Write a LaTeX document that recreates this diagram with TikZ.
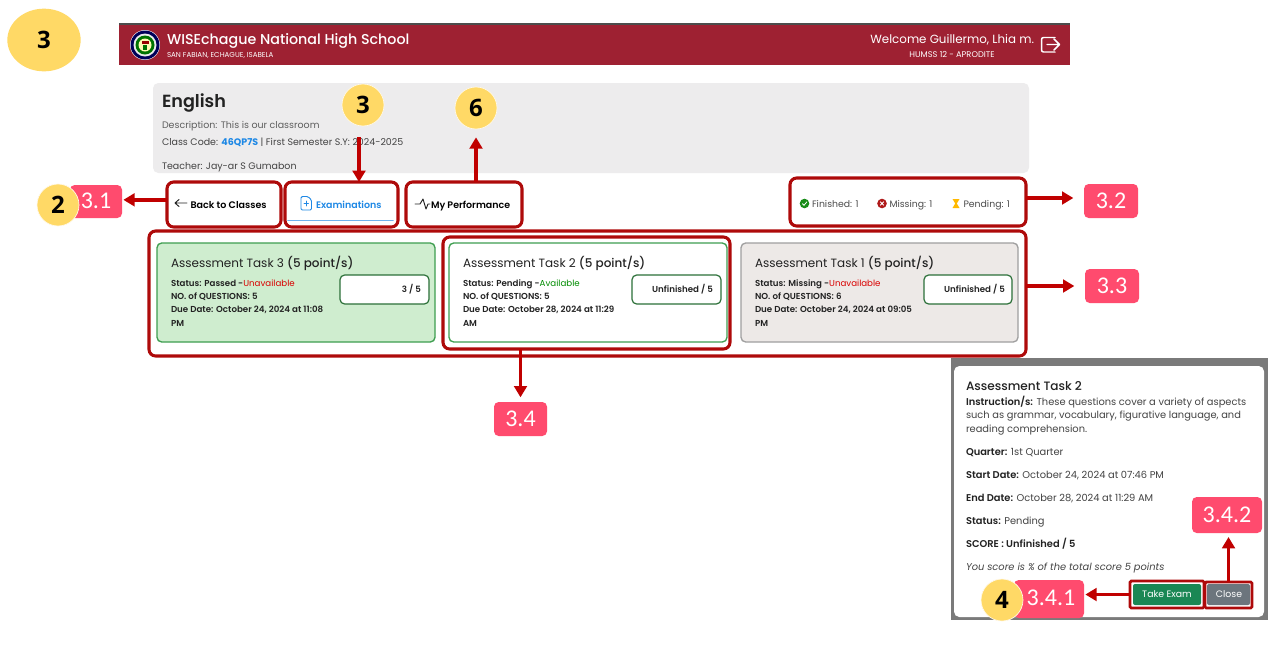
\documentclass[tikz,border=0pt]{standalone}
\usepackage{fontspec}
\setmainfont{Poppins}
\newfontfamily\pmed{Poppins Medium}
\newfontfamily\psemi{Poppins SemiBold}
\newfontfamily\carl{Carlito}
\newfontfamily\osans{Open Sans}
\usetikzlibrary{arrows.meta,calc,shapes.geometric}
\definecolor{banner}{HTML}{9E2132}
\definecolor{hlred}{HTML}{AE0A0A}
\definecolor{arrred}{HTML}{C00000}
\definecolor{pinklab}{HTML}{FF4B6E}
\definecolor{badgey}{HTML}{FFD966}
\definecolor{cardgray}{HTML}{EDECED}
\definecolor{inkt}{HTML}{222222}
\definecolor{grayt}{HTML}{5F5F5F}
\definecolor{linkb}{HTML}{1E88E5}
\definecolor{greenb}{HTML}{3E9E50}
\newcommand{\fs}[1]{\fontsize{#1pt}{#1pt}\selectfont}
% \bx[style]{name}{x1}{y1}{x2}{y2}
\newcommand{\bx}[6][]{%
  \pgfmathsetmacro{\bxw}{(#5-#3)*0.75}%
  \pgfmathsetmacro{\bxh}{(#6-#4)*0.75}%
  \node[#1,minimum width=\bxw pt,minimum height=\bxh pt] (#2) at ({(#3+#5)/2},{(#4+#6)/2}) {};}
\tikzset{
  x=0.75pt,y=-0.75pt,
  hl/.style={draw=hlred,line width=2.3pt,rounded corners=5pt,inner sep=0pt,outer sep=0pt},
  hlthin/.style={draw=hlred,line width=2pt,rounded corners=1pt,inner sep=0pt,outer sep=0pt},
  card/.style={draw=greenb,line width=1pt,rounded corners=3.5pt,inner sep=0pt,outer sep=0pt},
  inner/.style={draw=greenb!70!black,fill=white,line width=0.9pt,rounded corners=3.5pt,inner sep=0pt,outer sep=0pt},
  lab/.style={fill=pinklab,rounded corners=3.5pt,text=white,inner sep=0pt,outer sep=0pt,font=\carl\fs{18}},
  badge/.style={circle,fill=badgey,draw=white!85!badgey,line width=0.5pt,minimum size=31.5pt,inner sep=0pt,font=\osans\bfseries\fs{18}},
  arr/.style={draw=arrred,line width=2.7pt,-{Triangle[length=8.5pt,width=9.5pt]}},
  t/.style={anchor=west,inner sep=0pt,outer sep=0pt,text height=1.5ex,text depth=.4ex},
  r/.style={anchor=east,inner sep=0pt,outer sep=0pt,text height=1.5ex,text depth=.4ex},
  c/.style={anchor=center,inner sep=0pt,outer sep=0pt},
  icon/.style={line width=0.7pt,line cap=round,line join=round},
}
\begin{document}
\begin{tikzpicture}
\useasboundingbox (0,0) rectangle (1280,644);
\fill[white] (0,0) rectangle (1280,644);

% banner
\bx[fill=banner,inner sep=0pt,outer sep=0pt]{bannerbar}{119}{23}{1070}{65}
\fill[black!70] (119,23) rectangle (1070,25);
\fill[white] (145,45) circle[radius=15];
\fill[blue!35!black] (145,45) circle[radius=14.5];
\fill[white!85!gray] (145,45) circle[radius=11.5];
\fill[green!45!black] (145,45) circle[radius=9.5];
\fill[yellow!30!white] (145,45) circle[radius=6.5];
\fill[red!60!black] (141.5,41) rectangle (148.5,44);
\fill[green!45!black] (143,45) rectangle (147,50);
\node[t,text=white,font=\pmed\fs{10.7}] (title) at (167,40.5) {WISEchague National High School};
\node[t,text=white,font=\fs{5.35}] (addr) at (167,53.5) {SAN FABIAN, ECHAGUE, ISABELA};
\node[r,text=white,font=\fs{8.9}] (welcome) at (1034,39.5) {Welcome Guillermo, Lhia m.};
\node[c,text=white,font=\fs{6.2}] (humss) at (952,54) {HUMSS 12 - APRODITE};
\draw[white,line width=1.1pt,line join=round,line cap=round,rounded corners=1.5pt] (1055,37.5) -- (1041.5,37.5) -- (1041.5,52) -- (1055,52);
\draw[white,line width=1.1pt,line join=round,line cap=round] (1047,44.5) -- (1059,44.5) (1054,39) -- (1059.5,44.5) -- (1054,50);

% top-left badge
\node[ellipse,fill=badgey,minimum width=55pt,minimum height=47pt,inner sep=0pt,font=\osans\bfseries\fs{18}] (mainbadge) at (44,40) {3};

% class card
\bx[fill=cardgray,rounded corners=4pt,inner sep=0pt,outer sep=0pt]{classcard}{153}{83}{1029}{173}
\node[t,text=inkt,font=\psemi\fs{13.2}] (english) at (162,103) {English};
\node[t,text=grayt,font=\fs{7.1}] (desc) at (162,124.5) {Description: This is our classroom};
\node[t,text=inkt!85,font=\fs{7.1}] (code) at (162,141) {Class Code: {\color{linkb}\bfseries 46QP7S} | First Semester S.Y: 2024-2025};
\node[t,text=inkt!85,font=\fs{7.1}] (teacher) at (162,165) {Teacher: Jay-ar S Gumabon};

% tabs
\fill[white] (153,175) rectangle (1029,231);
\bx[hl]{backbox}{167}{182}{281}{227}
\bx[hl]{exambox}{285}{182}{398}{227}
\bx[hl]{perfbox}{406}{182}{522}{227}
\bx[hl]{statusbox}{790}{178}{1026}{226}
\draw[icon,inkt] (187,203) -- (175,203) (179,199.5) -- (175,203) -- (179,206.5);
\node[t,text=black,font=\psemi\fs{7.15}] (backt) at (190.5,204.5) {Back to Classes};
\draw[icon,linkb,rounded corners=1pt] (301,196.5) -- (301,210) -- (311.5,210) -- (311.5,200) -- (308,196.5) -- cycle;
\draw[icon,linkb] (304,203.5) -- (308.5,203.5) (306.2,201.2) -- (306.2,205.8);
\node[t,text=linkb,font=\psemi\fs{7.1}] (examt) at (316,204.5) {Examinations};
\draw[linkb!65,line width=1.4pt,line cap=round] (288,220.5) -- (393,220.5);
\draw[icon,inkt] (415,204) -- (420,204) -- (423,199) -- (426,209) -- (428,204) -- (430,204);
\node[t,text=black,font=\psemi\fs{7.1}] (perft) at (431,204.5) {My Performance};

% status
\fill[green!50!black!90] (804.5,203.5) circle[radius=4.8];
\draw[white,line width=0.6pt] (802.3,203.6) -- (804,205.3) -- (806.9,201.8);
\node[t,text=grayt!80!black,font=\fs{7}] (fin) at (812,203.5) {Finished: 1};
\fill[red!65!black!90!white] (882,203.5) circle[radius=4.8];
\draw[white,line width=0.6pt] (880.2,201.7) -- (883.8,205.3) (883.8,201.7) -- (880.2,205.3);
\node[t,text=grayt!80!black,font=\fs{7}] (mis) at (889.5,203.5) {Missing: 1};
\fill[orange!55!yellow] (952.5,199) -- (959.5,199) -- (956.8,203.5) -- (959.5,208) -- (952.5,208) -- (955.2,203.5) -- cycle;
\node[t,text=grayt!80!black,font=\fs{7}] (pen) at (963.5,203.5) {Pending: 1};

% assessment panel
\bx[hl]{bigbox}{149}{231}{1026}{356}
\bx[card,fill={rgb,255:red,207;green,237;blue,207}]{cardthree}{157}{243}{435}{342}
\bx[card,fill=white]{cardtwo}{449}{243}{727}{342}
\bx[card,fill={rgb,255:red,237;green,233;blue,231},draw=gray!75]{cardone}{741}{243}{1018}{342}
\bx[hl]{twobox}{443}{237}{730}{349}
\bx[inner]{innerthree}{340}{275}{429}{304}
\bx[inner]{innertwo}{632}{275}{721}{304}
\bx[inner]{innerone}{924}{275}{1012}{304}

\node[t,text=inkt,font=\fs{9}] (t3) at (171,263.5) {Assessment Task 3 {\pmed (5 point/s)}};
\node[t,text=inkt,font=\psemi\fs{6.5}] (t3a) at (171,282) {Status: Passed -{\fontspec{Poppins}\color{red!85!black}Unavailable}};
\node[t,text=inkt,font=\psemi\fs{6.5}] (t3b) at (171,295) {NO. of QUESTIONS: 5};
\node[t,text=inkt,font=\psemi\fs{6.5}] (t3c) at (171,308.5) {Due Date: October 24, 2024 at 11:08};
\node[t,text=inkt,font=\psemi\fs{6.5}] (t3d) at (171,322) {PM};
\node[r,text=inkt,font=\psemi\fs{6.5}] (s3) at (421,288) {3 / 5};

\node[t,text=inkt,font=\fs{9}] (t2) at (463,263.5) {Assessment Task 2 {\pmed (5 point/s)}};
\node[t,text=inkt,font=\psemi\fs{6.5}] (t2a) at (463,282) {Status: Pending -{\fontspec{Poppins}\color{green!55!black}Available}};
\node[t,text=inkt,font=\psemi\fs{6.5}] (t2b) at (463,295) {NO. of QUESTIONS: 5};
\node[t,text=inkt,font=\psemi\fs{6.5}] (t2c) at (463,308.5) {Due Date: October 28, 2024 at 11:29};
\node[t,text=inkt,font=\psemi\fs{6.5}] (t2d) at (463,322) {AM};
\node[r,text=inkt,font=\psemi\fs{6.5}] (s2) at (713,288) {Unfinished / 5};

\node[t,text=inkt,font=\fs{9}] (t1) at (755,263.5) {Assessment Task 1 {\pmed (5 point/s)}};
\node[t,text=inkt,font=\psemi\fs{6.5}] (t1a) at (755,282) {Status: Missing -{\fontspec{Poppins}\color{red!85!black}Unavailable}};
\node[t,text=inkt,font=\psemi\fs{6.5}] (t1b) at (755,295) {NO. of QUESTIONS: 6};
\node[t,text=inkt,font=\psemi\fs{6.5}] (t1c) at (755,308.5) {Due Date: October 24, 2024 at 09:05};
\node[t,text=inkt,font=\psemi\fs{6.5}] (t1d) at (755,322) {PM};
\node[r,text=inkt,font=\psemi\fs{6.5}] (s1) at (1005,288) {Unfinished / 5};

% modal
\bx[fill={rgb,255:red,122;green,122;blue,122},inner sep=0pt,outer sep=0pt]{backdrop}{951}{358}{1268}{620}
\bx[fill=white,rounded corners=4pt,inner sep=0pt,outer sep=0pt]{modal}{954}{366}{1264}{617}
\node[t,text=inkt,font=\pmed\fs{9.1}] (mt) at (966,386) {Assessment Task 2};
\node[t,text=grayt!70!black,font=\fs{7.4}] (m1) at (966,401) {{\psemi\color{inkt}Instruction/s:} These questions cover a variety of aspects};
\node[t,text=grayt!70!black,font=\fs{7.4}] (m2) at (966,414.5) {such as grammar, vocabulary, figurative language, and};
\node[t,text=grayt!70!black,font=\fs{7.4}] (m3) at (966,428) {reading comprehension.};
\node[t,text=grayt!70!black,font=\fs{7.4}] (m4) at (966,451.5) {{\psemi\color{inkt}Quarter:} 1st Quarter};
\node[t,text=grayt!70!black,font=\fs{7.4}] (m5) at (966,474.5) {{\psemi\color{inkt}Start Date:} October 24, 2024 at 07:46 PM};
\node[t,text=grayt!70!black,font=\fs{7.4}] (m6) at (966,497.5) {{\psemi\color{inkt}End Date:} October 28, 2024 at 11:29 AM};
\node[t,text=grayt!70!black,font=\fs{7.4}] (m7) at (966,520.5) {{\psemi\color{inkt}Status:} Pending};
\node[t,text=inkt,font=\psemi\fs{7.4}] (m8) at (966,543.5) {SCORE : Unfinished / 5};
\node[t,text=grayt!70!black,font=\itshape\fs{7.4}] (m9) at (966,566.5) {You score is \% of the total score 5 points};
\bx[fill={rgb,255:red,26;green,135;blue,84},rounded corners=1.5pt,inner sep=0pt,outer sep=0pt]{takebtn}{1133}{584}{1201}{605}
\bx[fill={rgb,255:red,108;green,117;blue,125},rounded corners=1.5pt,inner sep=0pt,outer sep=0pt]{closebtn}{1207}{584}{1250}{605}
\node[c,text=white,font=\fs{7}] (taket) at (1167,594) {Take Exam};
\node[c,text=white,font=\fs{7}] (closet) at (1229,594) {Close};
\bx[hlthin]{takebox}{1130}{581}{1204}{608}
\bx[hlthin]{closebox}{1205}{582}{1252}{608}

% labels
\bx[lab]{labA}{70}{185}{122}{218}
\node[c,text=white,font=\carl\fs{18}] (labAt) at (96,201) {3.1};
\bx[lab]{labB}{1084}{184}{1138}{218}
\node[c,text=white,font=\carl\fs{18}] (labBt) at (labB) {3.2};
\bx[lab]{labC}{1085}{269}{1139}{303}
\node[c,text=white,font=\carl\fs{18}] (labCt) at (labC) {3.3};
\bx[lab]{labD}{494}{402}{547}{436}
\node[c,text=white,font=\carl\fs{18}] (labDt) at (labD) {3.4};
\bx[lab]{labE}{1192}{497}{1262}{533}
\node[c,text=white,font=\carl\fs{18}] (labEt) at (labE) {3.4.2};
\bx[lab]{labF}{1014}{580}{1084}{618}
\node[c,text=white,font=\carl\fs{18}] (labFt) at (1051,598) {3.4.1};

% number badges
\node[badge] (bexam) at (363,105) {3};
\node[badge] (bperf) at (476,108) {6};
\node[badge] (bback) at (58,205) {2};
\node[badge] (btake) at (1002,600) {4};

% connectors
\draw[arr,shorten >=1pt] ([yshift=3.5pt]backbox.west) -- ([yshift=3.5pt]backbox.west -| labA.east);
\draw[arr,shorten <=8pt] ([xshift=-3pt]bexam.south) -- ([xshift=-3pt]bexam.south |- exambox.north);
\draw[arr,shorten >=6pt] (perfbox.north -| bperf.south) -- (bperf.south);
\draw[arr,shorten >=8pt] ([yshift=3pt]statusbox.east) -- ([yshift=3pt]statusbox.east -| labB.west);
\draw[arr,shorten >=8pt] (bigbox.east |- labC.west) -- (labC.west);
\draw[arr,shorten >=3.5pt] (labD.north |- twobox.south) -- (labD.north);
\draw[arr,shorten >=1pt] (takebox.west) -- (takebox.west -| labF.east);
\draw[arr,shorten >=3pt] (closebox.north) -- (closebox.north |- labE.south);
\end{tikzpicture}
\end{document}
